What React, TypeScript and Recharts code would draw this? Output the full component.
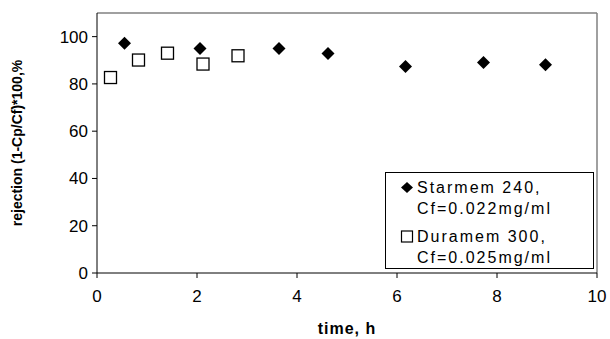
import { ScatterChart, Scatter, XAxis, YAxis, ReferenceLine } from 'recharts'

// Starmem 240, Cf=0.022mg/ml
const starmemTime = [0.55, 2.06, 3.64, 4.62, 6.17, 7.73, 8.97]
const starmemRejection = [97.2, 95.0, 95.0, 92.9, 87.4, 89.1, 88.1]

// Duramem 300, Cf=0.025mg/ml
const duramemTime = [0.27, 0.83, 1.41, 2.12, 2.82]
const duramemRejection = [82.7, 90.1, 93.0, 88.4, 91.9]

const xTicks = [0, 2, 4, 6, 8, 10]
const yTicks = [0, 20, 40, 60, 80, 100]

const starmem = starmemTime.map((t, i) => ({ t, r: starmemRejection[i] }))
const duramem = duramemTime.map((t, i) => ({ t, r: duramemRejection[i] }))

const font = 'Liberation Sans, Arial, sans-serif'

const Diamond = (props: any) => {
  const { cx, cy } = props
  const s = 6.5
  return <polygon points={`${cx},${cy - s} ${cx + s},${cy} ${cx},${cy + s} ${cx - s},${cy}`} fill="#000" />
}

const OpenSquare = (props: any) => {
  const { cx, cy } = props
  return <rect x={cx - 6} y={cy - 6} width={12} height={12} fill="#fff" stroke="#000" strokeWidth={1.3} />
}

function LegendBox() {
  const txt = { fontFamily: font, fontSize: 16, letterSpacing: 2, color: '#000', lineHeight: '21px' }
  return (
    <div style={{ position: 'absolute', left: 385, top: 172, border: '1px solid #000', background: '#fff', width: 209, height: 97, boxSizing: 'border-box', padding: '4px 0 0 14px' }}>
      <div style={{ display: 'flex', alignItems: 'flex-start' }}>
        <svg width={17} height={21}><polygon points="7,5 13,10.5 7,16 1,10.5" fill="#000" /></svg>
        <div style={txt}>Starmem 240,<br />Cf=0.022mg/ml</div>
      </div>
      <div style={{ display: 'flex', alignItems: 'flex-start', marginTop: 7 }}>
        <svg width={17} height={21}><rect x={1.5} y={5} width={11} height={11} fill="#fff" stroke="#000" strokeWidth={1.2} /></svg>
        <div style={txt}>Duramem 300,<br />Cf=0.025mg/ml</div>
      </div>
    </div>
  )
}

export default function App() {
  return (
    <div style={{ position: 'absolute', left: 0, top: 0, width: 610, height: 339, background: '#fff' }}>
      <ScatterChart width={610} height={339} margin={{ top: 13, right: 13, bottom: 0, left: 0 }}>
        <XAxis
          type="number"
          dataKey="t"
          domain={[0, 10]}
          ticks={xTicks}
          height={66}
          stroke="#000"
          tickSize={5}
          tickMargin={12}
          tick={{ fill: '#000', fontFamily: font, fontSize: 17 }}
          label={{ value: 'time, h', position: 'insideBottom', offset: 5, fill: '#000', fontFamily: font, fontSize: 16, fontWeight: 'bold', letterSpacing: 1 }}
        />
        <YAxis
          type="number"
          dataKey="r"
          domain={[0, 110]}
          ticks={yTicks}
          width={97}
          stroke="#000"
          tickSize={5}
          tickMargin={4}
          tick={{ fill: '#000', fontFamily: font, fontSize: 17 }}
          label={{ value: 'rejection (1-Cp/Cf)*100,%', angle: -90, position: 'insideLeft', offset: 17, fill: '#000', fontFamily: font, fontSize: 14, fontWeight: 'bold', style: { textAnchor: 'middle' } }}
        />
        <ReferenceLine y={110} stroke="#808080" strokeWidth={1.5} />
        <ReferenceLine x={10} stroke="#808080" strokeWidth={1.5} />
        <Scatter name="Starmem 240" data={starmem} shape={Diamond} isAnimationActive={false} />
        <Scatter name="Duramem 300" data={duramem} shape={OpenSquare} isAnimationActive={false} />
      </ScatterChart>
      <LegendBox />
    </div>
  )
}
